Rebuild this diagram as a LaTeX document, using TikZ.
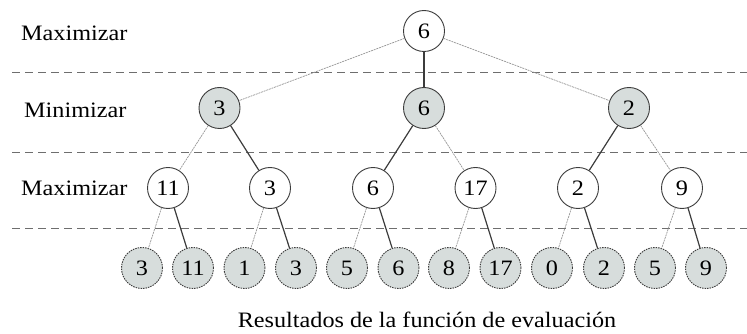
\documentclass[tikz,border=0pt]{standalone}
\usepackage{fontspec}
\setmainfont{Liberation Serif}[FakeStretch=1.1]
\definecolor{nodefill}{RGB}{215,221,220}
\definecolor{sepgray}{RGB}{110,110,110}
\definecolor{edgedark}{RGB}{60,60,60}
\definecolor{edgelight}{RGB}{150,150,150}
\begin{document}
\begin{tikzpicture}[x=1pt,y=-1pt,
  every node/.style={font=\fontsize{22}{24}\selectfont},
  tnode/.style={circle,draw=edgedark,line width=0.9pt,minimum size=41pt,inner sep=0pt},
  maxnode/.style={tnode,fill=white},
  minnode/.style={tnode,fill=nodefill},
  leafnode/.style={tnode,fill=nodefill,dash pattern=on 1.5pt off 1pt},
  sepline/.style={draw=sepgray,line width=0.9pt,dash pattern=on 8pt off 5pt},
  best/.style={draw=edgedark,line width=1.2pt},
  other/.style={draw=edgelight,line width=0.7pt,dash pattern=on 2pt off 0.8pt},
  lbl/.style={anchor=west,inner sep=0pt}]
\useasboundingbox (0,0) rectangle (747,334);
% separators
\coordinate (s1a) at (12,72); \coordinate (s1b) at (747,72);
\coordinate (s2a) at (12,152); \coordinate (s2b) at (747,152);
\coordinate (s3a) at (12,228); \coordinate (s3b) at (747,228);
\draw[sepline] (s1a) -- (s1b);
\draw[sepline] (s2a) -- (s2b);
\draw[sepline] (s3a) -- (s3b);
% labels
\node[lbl] (l1) at (21,33) {Maximizar};
\node[lbl] (l2) at (24,110) {Minimizar};
\node[lbl] (l3) at (21,188) {Maximizar};
\node (l4) at (427,320) {Resultados de la función de evaluación};
% root
\node[maxnode] (r) at (424,31) {6};
% min level
\node[minnode] (a) at (219.5,108) {3};
\node[minnode] (b) at (424,108) {6};
\node[minnode] (c) at (629,108) {2};
% max level
\node[maxnode] (a1) at (168,188) {11};
\node[maxnode] (a2) at (270,188) {3};
\node[maxnode] (b1) at (373,188) {6};
\node[maxnode] (b2) at (475.5,188) {17};
\node[maxnode] (c1) at (578,188) {2};
\node[maxnode] (c2) at (682,188) {9};
% leaves
\node[leafnode] (f1) at (142,268) {3};
\node[leafnode] (f2) at (193,268) {11};
\node[leafnode] (f3) at (244.5,268) {1};
\node[leafnode] (f4) at (296,268) {3};
\node[leafnode] (f5) at (347,268) {5};
\node[leafnode] (f6) at (398.5,268) {6};
\node[leafnode] (f7) at (449,268) {8};
\node[leafnode] (f8) at (500.5,268) {17};
\node[leafnode] (f9) at (552,268) {0};
\node[leafnode] (f10) at (604,268) {2};
\node[leafnode] (f11) at (655,268) {5};
\node[leafnode] (f12) at (706,268) {9};
% edges
\draw[other] (r) -- (a);
\draw[best] (r) -- (b);
\draw[other] (r) -- (c);
\draw[other] (a) -- (a1);
\draw[best] (a) -- (a2);
\draw[best] (b) -- (b1);
\draw[other] (b) -- (b2);
\draw[best] (c) -- (c1);
\draw[other] (c) -- (c2);
\draw[other] (a1) -- (f1);
\draw[best] (a1) -- (f2);
\draw[other] (a2) -- (f3);
\draw[best] (a2) -- (f4);
\draw[other] (b1) -- (f5);
\draw[best] (b1) -- (f6);
\draw[other] (b2) -- (f7);
\draw[best] (b2) -- (f8);
\draw[other] (c1) -- (f9);
\draw[best] (c1) -- (f10);
\draw[other] (c2) -- (f11);
\draw[best] (c2) -- (f12);
\end{tikzpicture}
\end{document}
